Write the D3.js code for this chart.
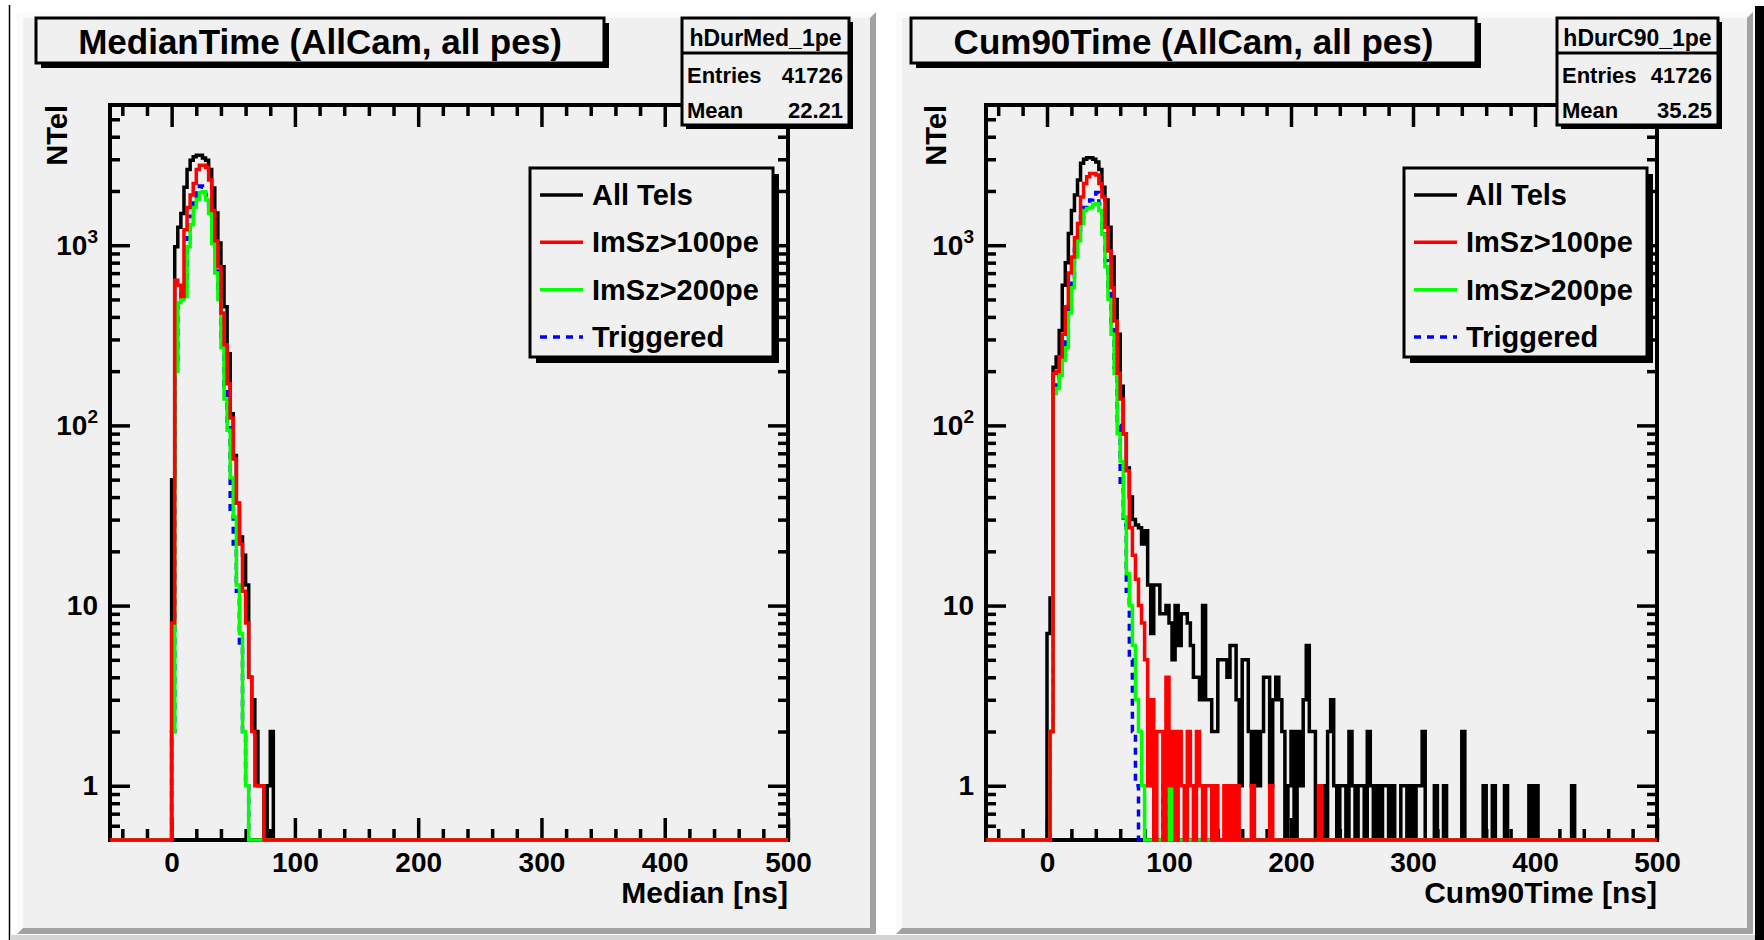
<!DOCTYPE html>
<html>
<head>
<meta charset="utf-8">
<title>MedianTime / Cum90Time</title>
<script src="https://cdn.jsdelivr.net/npm/d3@7"></script>
<style>
  body { margin: 0; background: #fff; }
  svg { display: block; }
  text { font-family: 'Liberation Sans', Arial, Helvetica, sans-serif; font-weight: bold; }
</style>
</head>
<body>
<div id="chart"></div>
<script>
// ---- values ----
const xDomain = [-50, 500];
const yDomain = [0.5, 6000];
const binWidth = 2.5;
const firstBinStart = 0; // every series below starts at the 0 ns bin

const xTickValues = [0, 100, 200, 300, 400, 500];
const yTickValues = [1, 10, 100, 1000];
const legendLabels = ['All Tels', 'ImSz>100pe', 'ImSz>200pe', 'Triggered'];
const panelTitles = ['MedianTime (AllCam, all pes)', 'Cum90Time (AllCam, all pes)'];
const xTitles = ['Median [ns]', 'Cum90Time [ns]'];
const yTitle = 'NTel';
const statNames = ['hDurMed_1pe', 'hDurC90_1pe'];
const statEntries = ['41726', '41726'];
const statMeans = ['22.21', '35.25'];

// MedianTime
const medianAllTels = [50, 980, 1260, 1500, 2100, 2630, 2960, 3100, 3160, 3160, 3050, 2960, 2630, 2080,
  1510, 1030, 760, 455, 250, 116, 68, 37, 24, 19, 13, 4, 3, 2, 1, 1, 0, 1, 2];
const medianImSz100 = [8, 640, 600, 520, 1220, 1620, 1900, 2200, 2630, 2780, 2780, 2700, 2300, 1560,
  1060, 760, 420, 280, 170, 110, 65, 37, 22, 12, 8, 4, 2, 1, 1, 1];
const medianImSz200 = [2, 200, 480, 500, 520, 980, 1300, 1620, 1800, 1960, 1980, 1780, 1500, 1020,
  700, 500, 270, 140, 94, 51, 31, 13, 7, 2, 1];
const medianTriggered = [2, 220, 500, 540, 600, 1100, 1450, 1800, 2050, 2130, 2100, 1900, 1600, 1100,
  760, 540, 300, 160, 100, 32, 22, 12, 6, 2, 1];

// Cum90Time
const cum90AllTels = [7, 11, 210, 240, 336, 600, 800, 1160, 1560, 1900, 2300, 2850, 3000, 3060,
  3060, 3000, 2900, 2630, 2100, 1780, 1260, 860, 500, 320, 165, 90, 58, 40,
  30, 28, 27, 22, 26, 13, 7, 13, 13, 9, 9, 10, 8, 5, 10, 6, 9, 9, 8, 6, 4, 4, 3, 10, 3, 3, 2, 2,
  5, 5, 5, 4, 6, 6, 3, 1, 5, 5, 2, 1, 2, 1, 2, 4, 4, 1, 3, 4, 3, 2, 0, 1, 2, 0, 2, 1, 3, 6,
  2, 2, 0, 1, 1, 0, 2, 3, 1, 0, 1, 1, 0, 2, 1, 0, 1, 1, 0, 2, 1, 0, 1, 0, 1, 1, 0, 1, 0, 0,
  1, 1, 0, 1, 0, 1, 1, 2, 0, 0, 0, 1, 0, 0, 1, 0, 0, 0, 0, 0, 2, 0, 0, 0, 0, 0, 0, 1, 0, 0,
  1, 0, 0, 0, 1, 0, 0, 0, 0, 0, 0, 0, 1, 0, 1, 0, 0, 0, 0, 0, 0, 0, 0, 0, 0, 0, 1];
const cum90ImSz100 = [0, 2, 195, 200, 240, 320, 455, 700, 860, 1100, 1320, 1850, 2200, 2400,
  2500, 2500, 2450, 2200, 1850, 1260, 930, 580, 380, 195, 140, 90, 56, 27,
  19, 14, 10, 8, 5, 1, 3, 0, 2, 2, 0, 4, 1, 2, 0, 2, 1, 0, 2, 1, 0, 2, 1, 0, 1, 1, 0, 1,
  0, 0, 1, 0, 1, 0, 1, 0, 0, 0, 0, 1, 0, 0, 0, 0, 0, 1, 0, 0, 0, 0, 0, 0, 0, 0, 0, 0,
  0, 0, 0, 0, 0, 1];
const cum90ImSz200 = [0, 2, 150, 160, 190, 230, 270, 420, 580, 860, 1060, 1320, 1560, 1600,
  1620, 1680, 1700, 1560, 1150, 760, 500, 320, 195, 90, 63, 31, 15, 10,
  6, 3, 2, 1, 0, 0, 0, 0, 0, 0, 0, 0, 1];
const cum90Triggered = [0, 2, 160, 175, 205, 250, 300, 460, 640, 950, 1150, 1430, 1620, 1700,
  1780, 1850, 1960, 1700, 1250, 820, 540, 340, 210, 100, 45, 28, 12, 5,
  2, 1, 0, 0, 0, 0, 0, 0, 0, 0, 1];

// ---- styling / layout ----
const padFill = '#f0f0f0';
const seriesColors = ['#000000', '#ff0000', '#00ff00', '#0000ff'];
const seriesDash = [null, null, null, '7,6'];
const drawOrder = [0, 3, 2, 1];

const panelLayouts = [
  { id: 'med', pad: [17, 12, 876, 934], frame: [110, 105, 788, 840], titleBox: [36, 18, 604, 63],
    statsBox: [682, 18, 849, 125], legendBox: [530, 168, 773, 357], yTitleX: 67 },
  { id: 'c90', pad: [896, 12, 1753, 934], frame: [986, 105, 1657, 840], titleBox: [911, 18, 1476, 63],
    statsBox: [1557, 18, 1718, 125], legendBox: [1404, 168, 1647, 357], yTitleX: 946 }
];

const panelSpecs = [
  { title: panelTitles[0], xTitle: xTitles[0], stat: [statNames[0], statEntries[0], statMeans[0]],
    series: [medianAllTels, medianImSz100, medianImSz200, medianTriggered] },
  { title: panelTitles[1], xTitle: xTitles[1], stat: [statNames[1], statEntries[1], statMeans[1]],
    series: [cum90AllTels, cum90ImSz100, cum90ImSz200, cum90Triggered] }
];

class LogHistPanel {
  constructor (svg, layout, spec) {
    this.svg = svg;
    this.layout = layout;
    this.spec = spec;
  }

  draw () {
    this._drawPad();
    this._prepareScales();
    this._drawFrame();
    this._drawAxes();
    this._drawHistograms();
    this._drawAxisTitles();
    this._drawTitle();
    this._drawStats();
    this._drawLegend();
    return this;
  }

  _drawPad () {
    const [x1, y1, x2, y2] = this.layout.pad;
    const b = 6;
    this.g = this.svg.append('g').attr('class', `pad pad-${this.layout.id}`);
    this.g.append('rect')
      .attr('x', x1).attr('y', y1)
      .attr('width', x2 - x1).attr('height', y2 - y1)
      .attr('fill', padFill);
    this.g.append('polygon')
      .attr('points', [[x1, y1], [x2, y1], [x2 - b, y1 + b], [x1 + b, y1 + b], [x1 + b, y2 - b], [x1, y2]].join(' '))
      .attr('fill', '#fbfbfb');
    this.g.append('polygon')
      .attr('points', [[x2, y1], [x2, y2], [x1, y2], [x1 + b, y2 - b], [x2 - b, y2 - b], [x2 - b, y1 + b]].join(' '))
      .attr('fill', '#a2a2a2');
  }

  _prepareScales () {
    const [fx1, fy1, fx2, fy2] = this.layout.frame;
    this.x = d3.scaleLinear().domain(xDomain).range([fx1, fx2]);
    this.y = d3.scaleLog().domain(yDomain).range([fy2, fy1]);
  }

  _drawFrame () {
    const [fx1, fy1, fx2, fy2] = this.layout.frame;
    this.g.append('rect')
      .attr('class', 'frame')
      .attr('x', fx1).attr('y', fy1)
      .attr('width', fx2 - fx1).attr('height', fy2 - fy1)
      .attr('fill', 'none')
      .attr('stroke', '#000')
      .attr('stroke-width', 4);
  }

  _addAxis (axis, transform) {
    const g = this.g.append('g').attr('transform', transform).call(axis);
    g.select('.domain').remove();
    g.selectAll('line').attr('stroke', '#000').attr('stroke-width', 3.5);
    return g;
  }

  _drawAxes () {
    const [fx1, fy1, fx2, fy2] = this.layout.frame;
    const minorX = d3.range(-40, 500, 20).filter(v => v % 100 !== 0);
    const minorY = [-1, 0, 1, 2, 3]
      .flatMap(k => d3.range(2, 10).map(m => m * Math.pow(10, k)))
      .filter(v => v > yDomain[0] * 1.01 && v < yDomain[1]);

    const bottom = this._addAxis(
      d3.axisBottom(this.x).tickValues(xTickValues).tickSize(-22).tickPadding(12).tickFormat(d3.format('d')),
      `translate(0,${fy2})`);
    bottom.selectAll('text').attr('font-size', 28).attr('fill', '#000');
    this._addAxis(d3.axisBottom(this.x).tickValues(minorX).tickSize(-11).tickFormat(''), `translate(0,${fy2})`);
    this._addAxis(d3.axisTop(this.x).tickValues(xTickValues).tickSize(-22).tickFormat(''), `translate(0,${fy1})`);
    this._addAxis(d3.axisTop(this.x).tickValues(minorX).tickSize(-11).tickFormat(''), `translate(0,${fy1})`);

    const left = this._addAxis(
      d3.axisLeft(this.y).tickValues(yTickValues).tickSize(-20).tickPadding(12),
      `translate(${fx1},0)`);
    left.selectAll('.tick text')
      .attr('font-size', 28)
      .attr('fill', '#000')
      .each(function (d) {
        const t = d3.select(this).text(null);
        const exp = Math.round(Math.log10(d));
        if (exp < 2) {
          t.text(String(d));
        } else {
          t.append('tspan').text('10');
          t.append('tspan').attr('dy', -12).attr('font-size', 19).text(exp);
        }
      });
    this._addAxis(d3.axisLeft(this.y).tickValues(minorY).tickSize(-10).tickFormat(''), `translate(${fx1},0)`);
    this._addAxis(d3.axisRight(this.y).tickValues(yTickValues).tickSize(-20).tickFormat(''), `translate(${fx2},0)`);
    this._addAxis(d3.axisRight(this.y).tickValues(minorY).tickSize(-10).tickFormat(''), `translate(${fx2},0)`);
  }

  _bins (counts) {
    const nBins = Math.round((xDomain[1] - xDomain[0]) / binWidth);
    const offset = Math.round((firstBinStart - xDomain[0]) / binWidth);
    const bins = d3.range(nBins).map(i => ({
      x0: xDomain[0] + i * binWidth,
      count: counts[i - offset] || 0
    }));
    bins.push({ x0: xDomain[1], count: bins[bins.length - 1].count });
    return bins;
  }

  _drawHistograms () {
    const [fx1, fy1, fx2, fy2] = this.layout.frame;
    const clipId = `clip-${this.layout.id}`;
    this.g.append('clipPath').attr('id', clipId)
      .append('rect')
      .attr('x', fx1).attr('y', fy1)
      .attr('width', fx2 - fx1).attr('height', fy2 - fy1 + 3);

    const stepLine = d3.line()
      .curve(d3.curveStepAfter)
      .x(d => this.x(d.x0))
      .y(d => this.y(Math.max(d.count, yDomain[0])));

    const layer = this.g.append('g').attr('clip-path', `url(#${clipId})`);
    drawOrder.forEach(i => {
      layer.append('path')
        .datum(this._bins(this.spec.series[i]))
        .attr('d', stepLine)
        .attr('fill', 'none')
        .attr('stroke', seriesColors[i])
        .attr('stroke-width', 3.5)
        .attr('stroke-dasharray', seriesDash[i]);
    });
  }

  _drawAxisTitles () {
    const [, fy1, fx2] = this.layout.frame;
    this.g.append('text')
      .attr('x', fx2).attr('y', 903)
      .attr('text-anchor', 'end')
      .attr('font-size', 30)
      .text(this.spec.xTitle);
    this.g.append('text')
      .attr('transform', `translate(${this.layout.yTitleX},${fy1}) rotate(-90)`)
      .attr('text-anchor', 'end')
      .attr('font-size', 29)
      .text(yTitle);
  }

  _box (x1, y1, x2, y2, shadow) {
    this.g.append('rect')
      .attr('x', x1 + shadow).attr('y', y1 + shadow)
      .attr('width', x2 - x1).attr('height', y2 - y1)
      .attr('fill', '#000');
    this.g.append('rect')
      .attr('x', x1).attr('y', y1)
      .attr('width', x2 - x1).attr('height', y2 - y1)
      .attr('fill', padFill)
      .attr('stroke', '#000')
      .attr('stroke-width', 3);
  }

  _drawTitle () {
    const [x1, y1, x2, y2] = this.layout.titleBox;
    this._box(x1, y1, x2, y2, 5);
    this.g.append('text')
      .attr('x', (x1 + x2) / 2).attr('y', 54)
      .attr('text-anchor', 'middle')
      .attr('font-size', 35)
      .text(this.spec.title);
  }

  _drawStats () {
    const [x1, y1, x2, y2] = this.layout.statsBox;
    const [name, entries, mean] = this.spec.stat;
    this._box(x1, y1, x2, y2, 4);
    this.g.append('line')
      .attr('x1', x1).attr('x2', x2)
      .attr('y1', 53).attr('y2', 53)
      .attr('stroke', '#000').attr('stroke-width', 3);
    this.g.append('text')
      .attr('x', (x1 + x2) / 2).attr('y', 46)
      .attr('text-anchor', 'middle')
      .attr('font-size', 23)
      .text(name);
    [['Entries', entries, 83], ['Mean', mean, 118]].forEach(([label, value, yy]) => {
      this.g.append('text').attr('x', x1 + 5).attr('y', yy).attr('font-size', 22).text(label);
      this.g.append('text').attr('x', x2 - 6).attr('y', yy)
        .attr('text-anchor', 'end').attr('font-size', 22).text(value);
    });
  }

  _drawLegend () {
    const [x1, y1, x2, y2] = this.layout.legendBox;
    this._box(x1, y1, x2, y2, 6);
    const rowY = d3.scalePoint().domain(d3.range(legendLabels.length)).range([y1 + 27, y1 + 169]);
    legendLabels.forEach((label, i) => {
      const cy = rowY(i);
      this.g.append('line')
        .attr('x1', x1 + 10).attr('x2', x1 + 53)
        .attr('y1', cy).attr('y2', cy)
        .attr('stroke', seriesColors[i])
        .attr('stroke-width', 3.5)
        .attr('stroke-dasharray', seriesDash[i]);
      this.g.append('text')
        .attr('x', x1 + 62).attr('y', cy + 10)
        .attr('font-size', 29)
        .text(label);
    });
  }
}

const svg = d3.select('#chart').append('svg')
  .attr('width', 1764)
  .attr('height', 940);

svg.append('rect').attr('width', 1764).attr('height', 940).attr('fill', '#fff');
// window edges visible in the original screenshot
svg.append('line')
  .attr('x1', 9.5).attr('x2', 9.5).attr('y1', 5).attr('y2', 940)
  .attr('stroke', '#000').attr('stroke-width', 1.5);
svg.append('rect').attr('x', 1755).attr('y', 6).attr('width', 9).attr('height', 934).attr('fill', '#000');
svg.append('rect').attr('x', 10).attr('y', 935).attr('width', 1745).attr('height', 5).attr('fill', '#d4d4d4');

panelLayouts.forEach((layout, i) => new LogHistPanel(svg, layout, panelSpecs[i]).draw());
</script>
</body>
</html>
